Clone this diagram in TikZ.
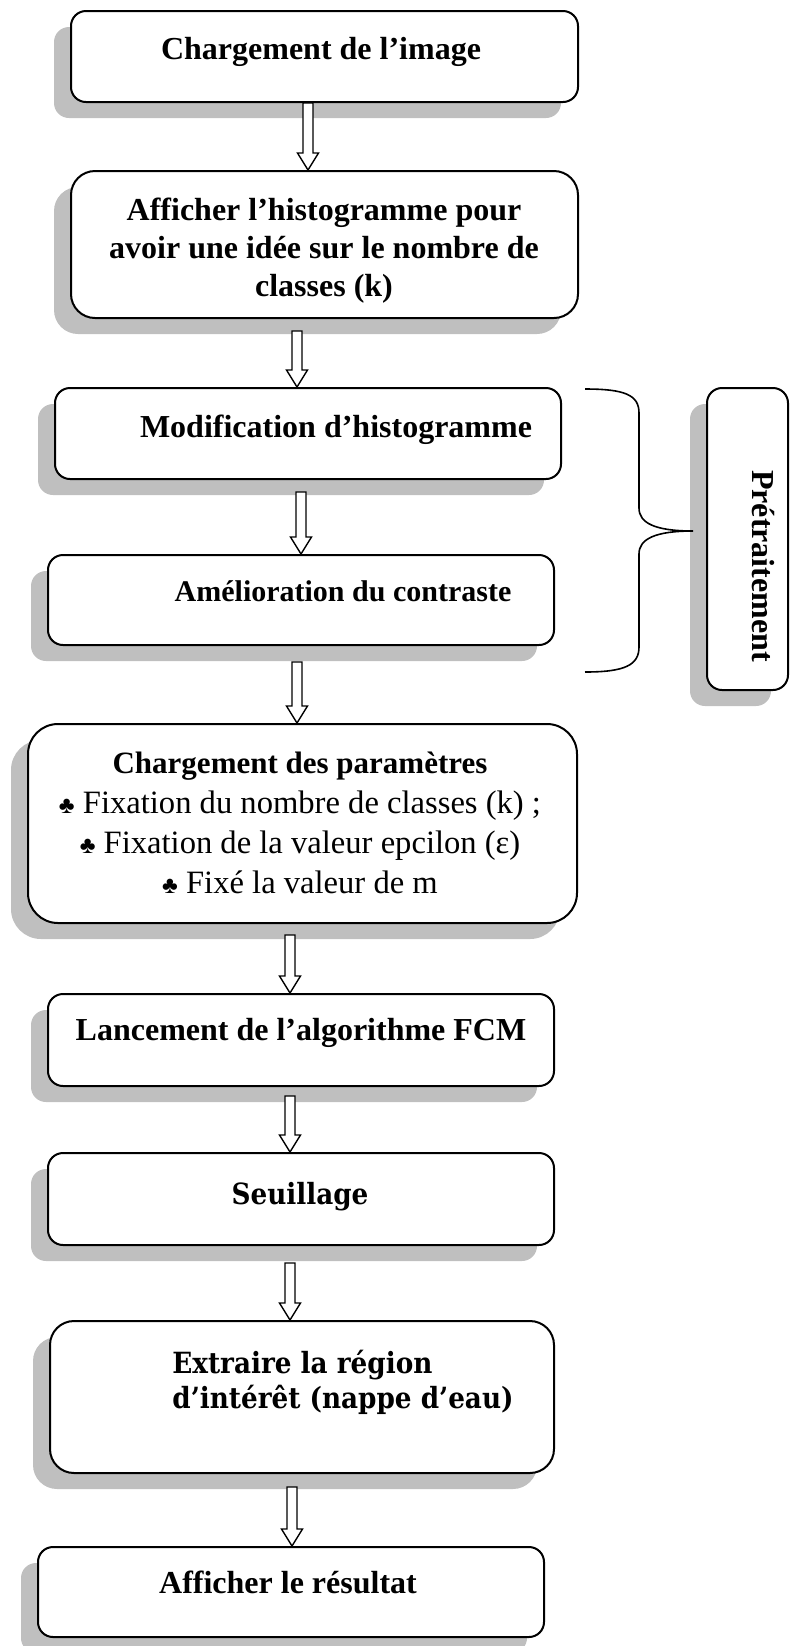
\documentclass[tikz,border=0pt]{standalone}
\usepackage{fontspec}
\setmainfont{Liberation Serif}
\newfontfamily\cambria{DejaVu Serif Condensed}
\usetikzlibrary{shadows,calc}

\tikzset{
  box/.style={draw, line width=1pt, fill=white, rounded corners=7.5pt, inner sep=0pt,
    drop shadow={shadow xshift=-8.5pt, shadow yshift=-8pt, fill=black!25, opacity=1}},
  txt/.style={font=\fontsize{16}{19}\selectfont\bfseries, align=center, inner sep=0pt},
  ctxt/.style={txt, font=\cambria\fontsize{14.6}{17.5}\selectfont\bfseries},
  harr/.style={draw, fill=white, line width=0.7pt},
  curly/.style={draw, line width=0.8pt}
}

% hollow block arrow between two points
\newcommand{\harrow}[2]{%
  \path[harr] let \p1=#1, \p2=#2 in
    (\x1-2.5pt,\y1) -- (\x1-2.5pt,\y2+8.5pt) -- (\x1-5.25pt,\y2+8.5pt)
    -- (\x1,\y2) -- (\x1+5.25pt,\y2+8.5pt) -- (\x1+2.5pt,\y2+8.5pt)
    -- (\x1+2.5pt,\y1) -- cycle;}
\newcommand{\club}{{\fontsize{12}{12}\selectfont ♣}}
\newcommand{\reg}{\mdseries\fontsize{16.3}{20}\selectfont}

\begin{document}
\begin{tikzpicture}[x=0.5pt,y=-0.5pt]
\useasboundingbox (0,0) rectangle (789,1646);

% boxes
\node[box, minimum width=253.5pt, minimum height=45.5pt] (load) at (324.5,56.5) {};
\node[box, rounded corners=12pt, minimum width=253.5pt, minimum height=73.5pt] (hist) at (324.5,244.5) {};
\node[box, minimum width=253pt, minimum height=45.5pt] (modif) at (308,433.5) {};
\node[box, minimum width=253pt, minimum height=45pt] (contr) at (301,600) {};
\node[box, rounded corners=15pt, minimum width=274.5pt, minimum height=99.5pt] (param) at (302.5,823.5) {};
\node[box, minimum width=253pt, minimum height=46pt] (fcm) at (301,1040) {};
\node[box, minimum width=253pt, minimum height=46pt] (seuil) at (301,1199) {};
\node[box, rounded corners=12pt, minimum width=252pt, minimum height=76pt] (roi) at (302,1397) {};
\node[box, minimum width=253pt, minimum height=45pt] (res) at (291,1592) {};
\node[box, minimum width=40.5pt, minimum height=151pt] (pre) at (747.5,539) {};

% texts
\node[txt, anchor=base] (load-t) at (321,59) {Chargement de l’image};
\node[txt] (hist-t) at (324,250.5) {Afficher l’histogramme pour\\avoir une idée sur le nombre de\\classes (k)};
\node[txt, anchor=base] (modif-t) at (336,437) {Modification d’histogramme};
\node[txt, font=\fontsize{15}{18}\selectfont\bfseries, anchor=base] (contr-t) at (343,601) {Amélioration du contraste};
\node[txt, font=\fontsize{15.5}{20}\selectfont\bfseries] (param-t) at (300,823)
  {Chargement des paramètres\\
   \reg\club{} Fixation du nombre de classes (k) ;\\
   \reg\club{} Fixation de la valeur epcilon (ε)\\
   \reg\club{} Fixé la valeur de m};
\node[txt, anchor=base] (fcm-t) at (301,1040) {Lancement de l’algorithme FCM};
\node[ctxt, anchor=base] (seuil-t) at (300,1204) {Seuillage};
\node[ctxt, align=left, anchor=west] (roi-t) at (172,1382) {Extraire la région\\d’intérêt (nappe d’eau)};
\node[txt, anchor=base] (res-t) at (288,1593) {Afficher le résultat};
\node[txt, rotate=-90] (pre-t) at (763,566) {Prétraitement};

% arrows
\harrow{([xshift=-8.25pt]load.south)}{([xshift=-8.25pt]hist.north)}
\harrow{([xshift=-13.75pt,yshift=-6pt]hist.south)}{([xshift=-5.5pt]modif.north)}
\harrow{([xshift=-3.5pt,yshift=-6pt]modif.south)}{(contr.north)}
\harrow{([xshift=-2pt,yshift=-8pt]contr.south)}{([xshift=-2.75pt]param.north)}
\harrow{([xshift=-6.25pt,yshift=-5.5pt]param.south)}{([xshift=-5.5pt]fcm.north)}
\harrow{([xshift=-5.5pt,yshift=-4.5pt]fcm.south)}{([xshift=-5.5pt]seuil.north)}
\harrow{([xshift=-5.5pt,yshift=-8.5pt]seuil.south)}{([xshift=-6pt]roi.north)}
\harrow{([xshift=-5pt,yshift=-6.5pt]roi.south)}{([xshift=0.5pt]res.north)}

% brace
\path[curly] (585,389) .. controls (625,389) and (639,395) .. (639,413) -- (639,508)
  .. controls (639,523) and (655,531) .. (693,531)
  .. controls (655,531) and (639,539) .. (639,554) -- (639,647)
  .. controls (639,665) and (625,672) .. (585,672);
\end{tikzpicture}
\end{document}
